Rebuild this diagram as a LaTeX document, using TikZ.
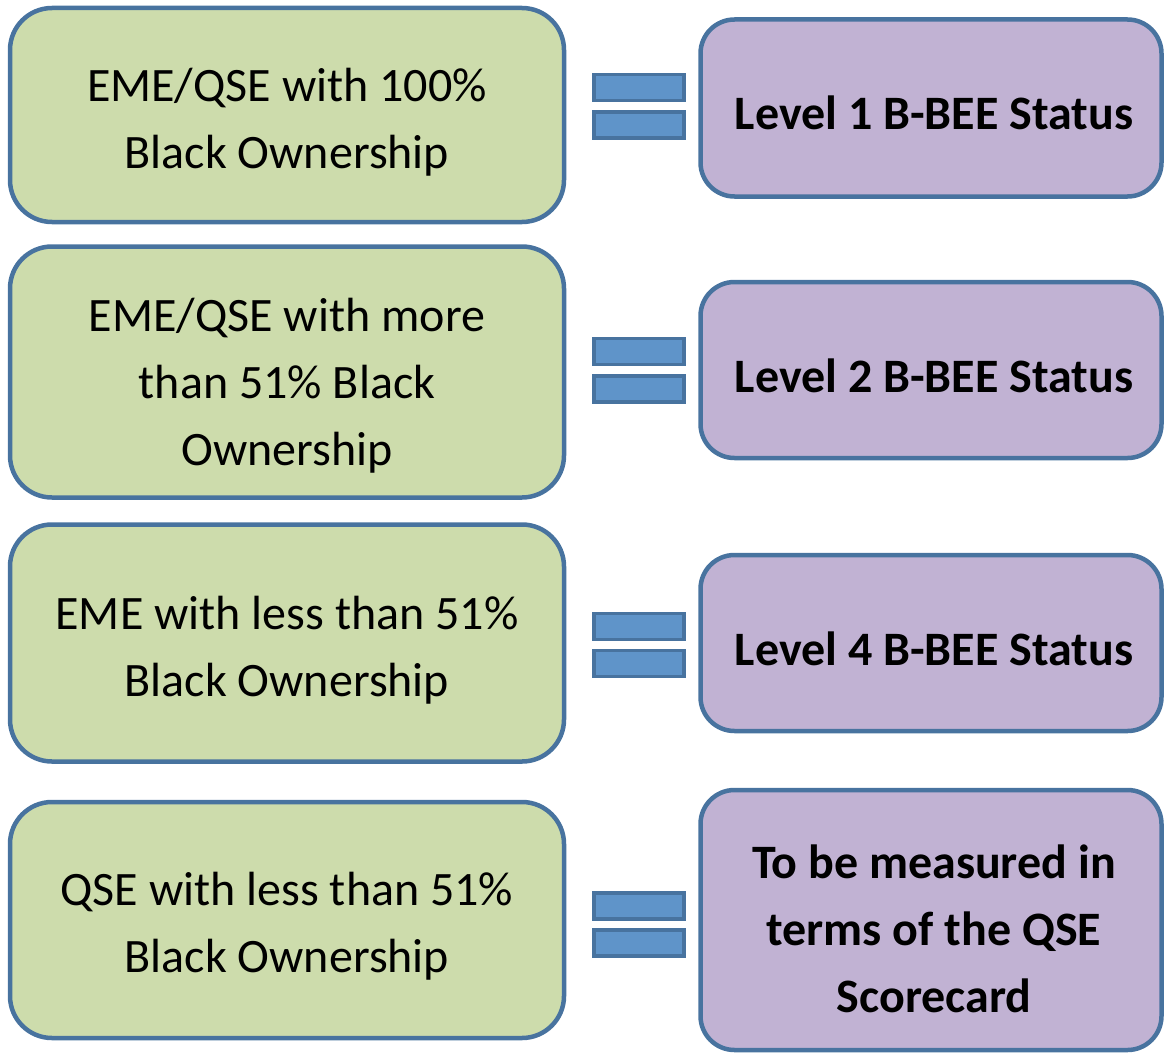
\documentclass[tikz,border=0pt]{standalone}
\usepackage{fontspec}
\setmainfont{Carlito}
\usetikzlibrary{positioning}
\definecolor{boxline}{HTML}{48739F}
\definecolor{ownfill}{HTML}{CDDCAC}
\definecolor{statusfill}{HTML}{C1B2D3}
\definecolor{barfill}{HTML}{5F94C9}
\tikzset{
  ownbox/.style={draw=boxline, line width=4.5pt, rounded corners=42pt, fill=ownfill, inner sep=0pt, minimum width=554pt},
  statusbox/.style={draw=boxline, line width=4.5pt, rounded corners=34pt, fill=statusfill, inner sep=0pt, minimum width=461pt},
  owntext/.style={inner sep=0pt, align=center, font=\fontsize{48}{67}\selectfont},
  statustext/.style={inner sep=0pt, align=center, font=\bfseries\fontsize{48}{67}\selectfont},
  eqbar/.style={draw=boxline, line width=3.5pt, fill=barfill, inner sep=0pt, minimum width=90pt, minimum height=26pt}
}

\begin{document}
\begin{tikzpicture}[x=1pt, y=-1pt, yscale=1, xscale=1]
\useasboundingbox (0, 0) rectangle (1166, 1054);
%Ownership
\node[ownbox, minimum height=214pt] (own1) at (287, 115) {};
\node[ownbox, minimum height=251pt] (own2) at (287, 372) {};
\node[ownbox, minimum height=237pt] (own3) at (287, 643) {};
\node[ownbox, minimum height=236pt] (own4) at (287, 920) {};
%Status
\node[statusbox, minimum height=177pt] (status1) at (931, 108) {};
\node[statusbox, minimum height=176pt] (status2) at (931, 370) {};
\node[statusbox, minimum height=176pt] (status3) at (931, 643) {};
\node[statusbox, minimum height=260pt] (status4) at (931, 920) {};
%Equals
\node[eqbar] (eq1a) at (639, 87.5) {};
\node[eqbar] (eq1b) at (639, 125) {};
\node[eqbar] (eq2a) at (639, 351.5) {};
\node[eqbar] (eq2b) at (639, 389) {};
\node[eqbar] (eq3a) at (639, 626.5) {};
\node[eqbar] (eq3b) at (639, 663.5) {};
\node[eqbar] (eq4a) at (639, 906) {};
\node[eqbar] (eq4b) at (639, 943) {};
%Text
\node[owntext] (own1text) at ([yshift=-7pt]own1.center) {EME/QSE with 100\%\\Black Ownership};
\node[owntext] (own2text) at ([yshift=-14pt]own2.center) {EME/QSE with more\\than 51\% Black\\Ownership};
\node[owntext] (own3text) at ([yshift=-7pt]own3.center) {EME with less than 51\%\\Black Ownership};
\node[owntext] (own4text) at ([yshift=-6pt]own4.center) {QSE with less than 51\%\\Black Ownership};
\node[statustext] (status1text) at ([xshift=3pt, yshift=-5pt]status1.center) {Level 1 B-BEE Status};
\node[statustext] (status2text) at ([xshift=3pt, yshift=-6pt]status2.center) {Level 2 B-BEE Status};
\node[statustext] (status3text) at ([xshift=3pt, yshift=-6pt]status3.center) {Level 4 B-BEE Status};
\node[statustext] (status4text) at ([xshift=3pt, yshift=-9pt]status4.center) {To be measured in\\terms of the QSE\\Scorecard};
\end{tikzpicture}
\end{document}
